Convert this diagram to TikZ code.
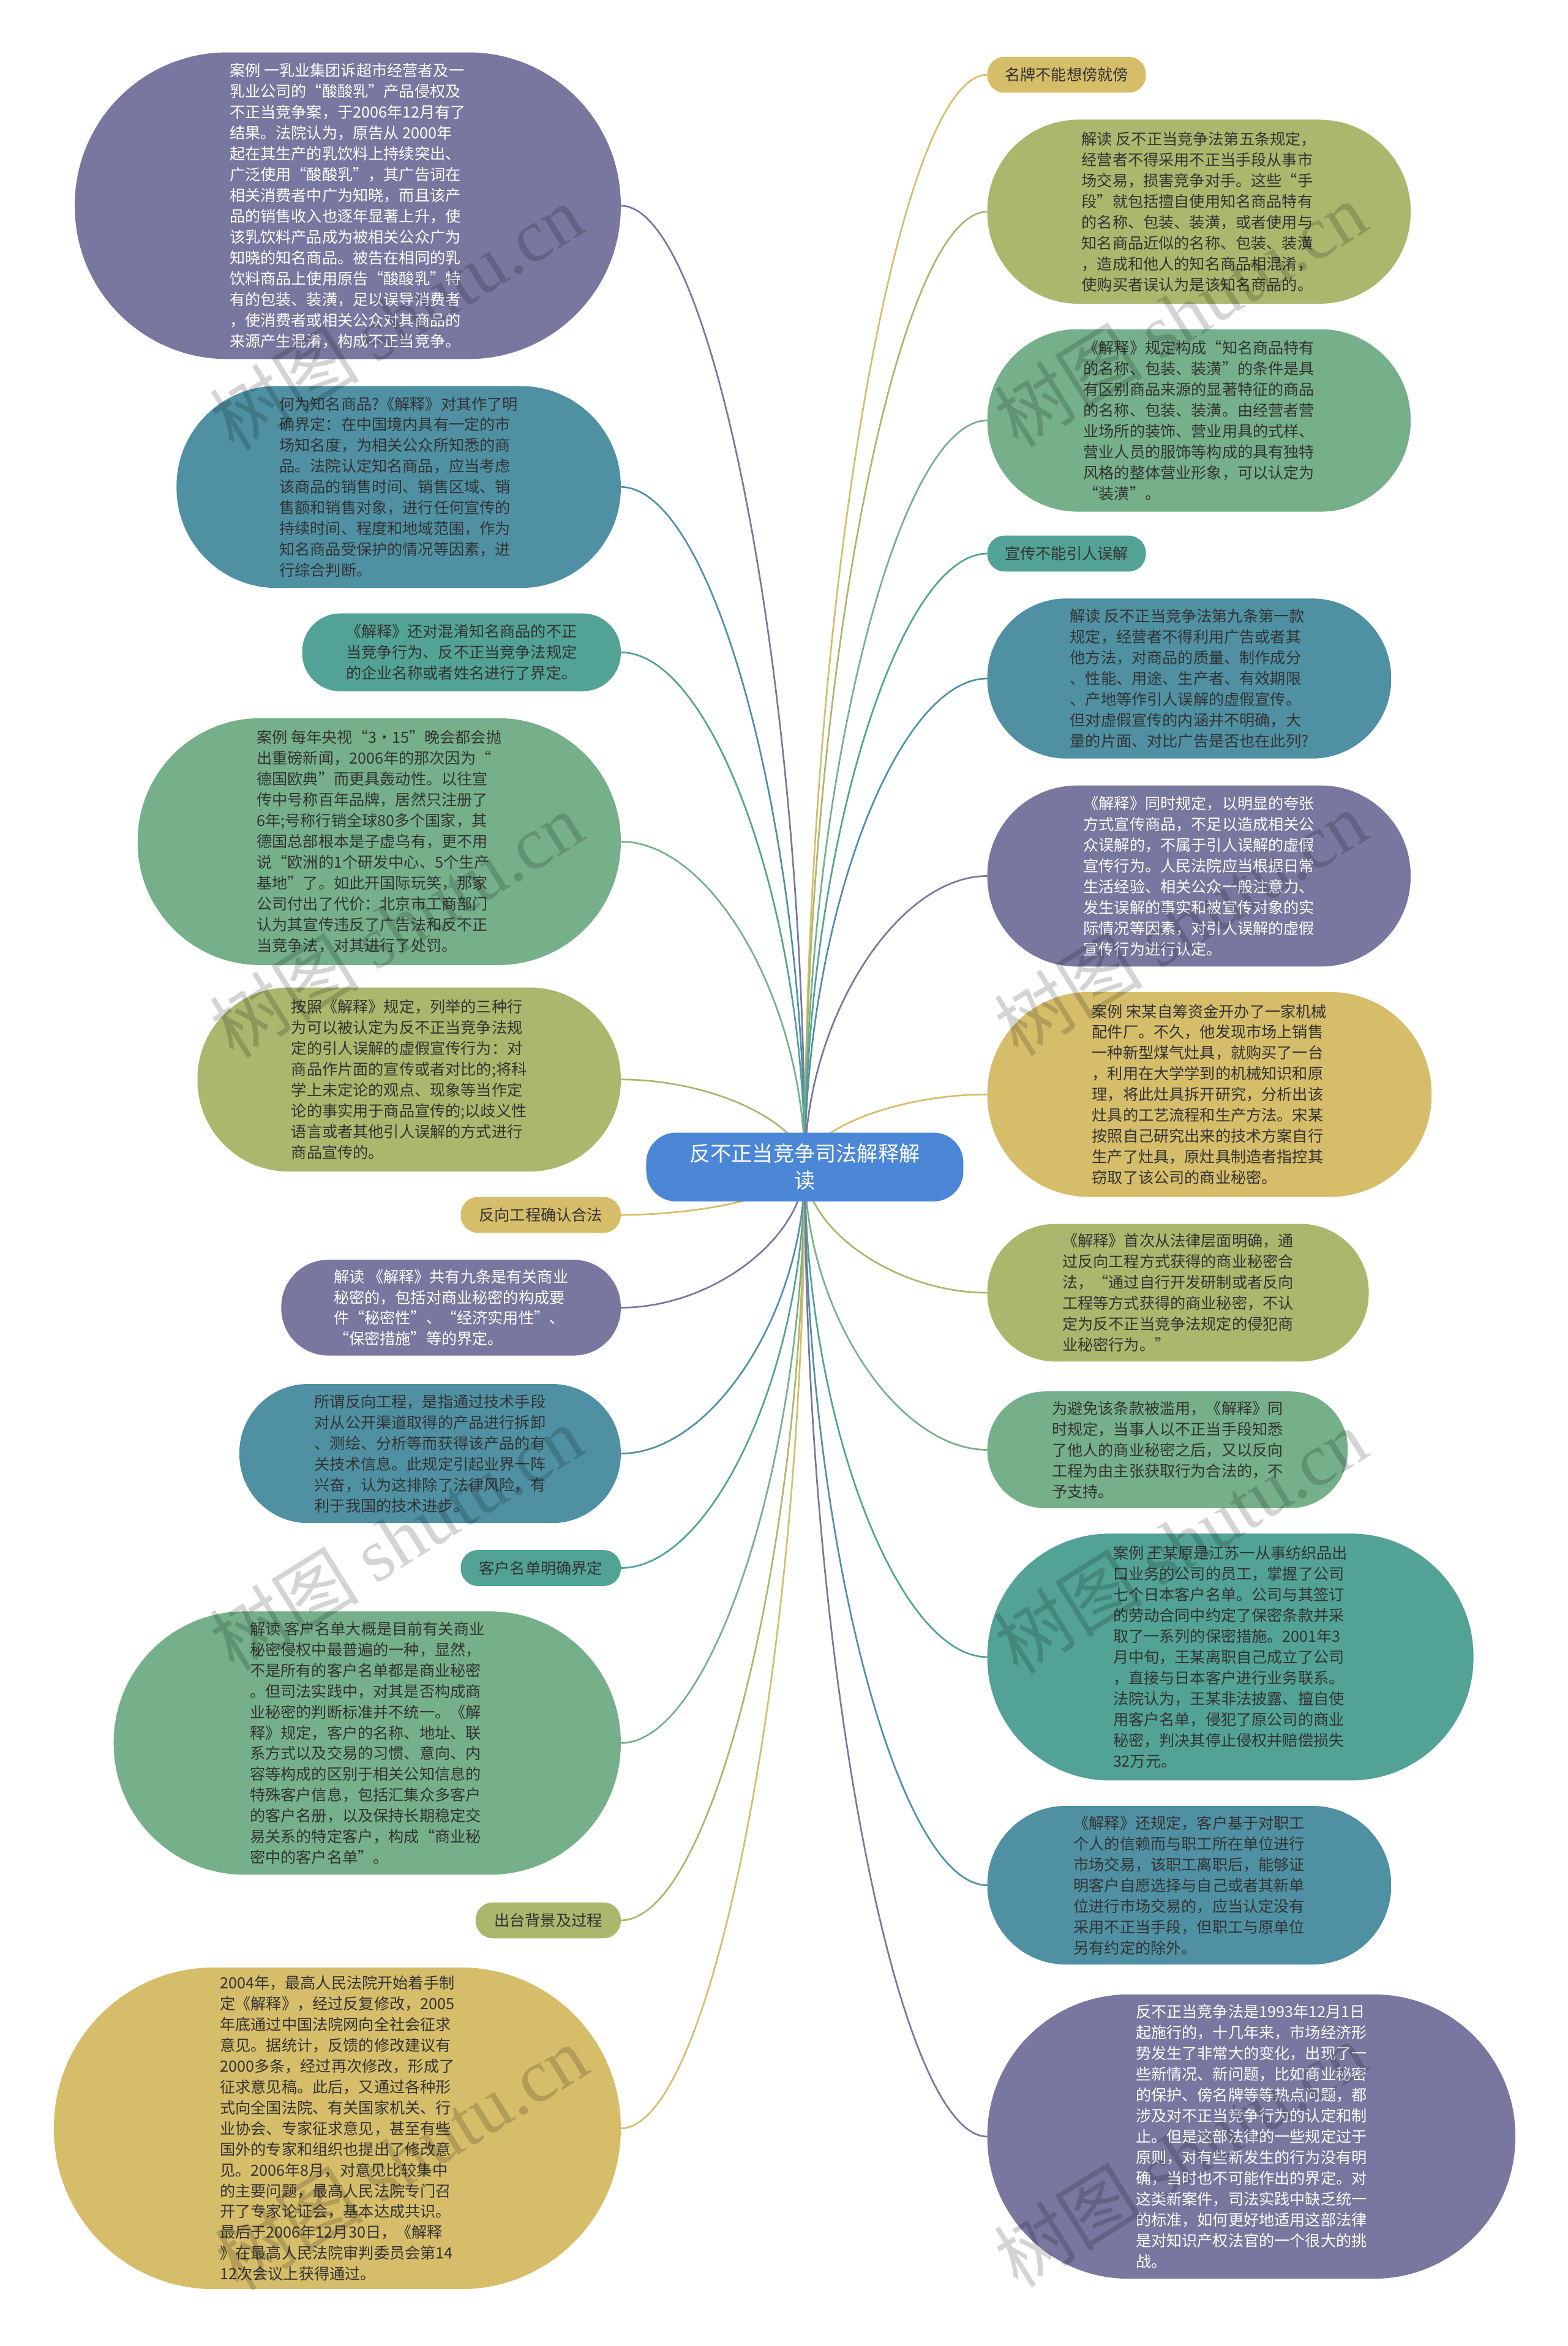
\documentclass[tikz,border=0pt]{standalone}
\usepackage{fontspec}
\setmainfont{Noto Sans CJK SC}
\newfontfamily\wmlatin{Liberation Serif}
\usetikzlibrary{calc,backgrounds}
\definecolor{cpur}{RGB}{119,119,159}
\definecolor{cteal}{RGB}{79,145,163}
\definecolor{cgreen}{RGB}{117,176,139}
\definecolor{colive}{RGB}{172,182,108}
\definecolor{cgold}{RGB}{213,189,106}
\definecolor{ctg}{RGB}{82,163,150}
\definecolor{cblue}{RGB}{75,134,215}
\definecolor{cdark}{RGB}{51,51,51}
\tikzset{
  box/.style={rectangle, inner sep=0pt, outer sep=0pt, align=left,
    font=\fontsize{10.3}{13.9}\selectfont, text=cdark},
  lbl/.style={rectangle, inner sep=0pt, outer sep=0pt,
    font=\fontsize{10.3}{13.9}\selectfont, text=cdark,
    minimum height=24pt, rounded corners=11.5pt},
  link/.style={line width=1.1pt},
  wm/.style={font=\fontsize{50}{50}\selectfont, text=black, text opacity=0.17,
    rotate=32, inner sep=0pt},
}
\newcommand\mmlink[3]{\draw[link,#1] (#2) .. controls ($(#2)!0.5!(#2|-#3)$) and ($(#3)!0.5!(#2|-#3)$) .. (#3);}
\begin{document}
\begin{tikzpicture}[x=1pt,y=-1pt]
\useasboundingbox (0,0) rectangle (1048,1568);

% centre
\node[rectangle, fill=cblue, text=white, font=\fontsize{14}{18}\selectfont,
  align=center, minimum width=212pt, minimum height=46pt, rounded corners=20pt,
  inner sep=0pt] (root) at (538,780) {反不正当竞争司法解释解\\读};

% ---------- left ----------
\node[box, fill=cpur, text=white, minimum width=365pt, minimum height=205pt, rounded corners=102pt] (l1) at (232.5,137.5) {案例 一乳业集团诉超市经营者及一\\
乳业公司的“酸酸乳”产品侵权及\\
不正当竞争案，于2006年12月有了\\
结果。法院认为，原告从 2000年\\
起在其生产的乳饮料上持续突出、\\
广泛使用“酸酸乳”，其广告词在\\
相关消费者中广为知晓，而且该产\\
品的销售收入也逐年显著上升，使\\
该乳饮料产品成为被相关公众广为\\
知晓的知名商品。被告在相同的乳\\
饮料商品上使用原告“酸酸乳”特\\
有的包装、装潢，足以误导消费者\\
，使消费者或相关公众对其商品的\\
来源产生混淆，构成不正当竞争。};

\node[box, fill=cteal, minimum width=297pt, minimum height=135pt, rounded corners=67pt] (l2) at (266.5,325.5) {何为知名商品?《解释》对其作了明\\
确界定：在中国境内具有一定的市\\
场知名度，为相关公众所知悉的商\\
品。法院认定知名商品，应当考虑\\
该商品的销售时间、销售区域、销\\
售额和销售对象，进行任何宣传的\\
持续时间、程度和地域范围，作为\\
知名商品受保护的情况等因素，进\\
行综合判断。};

\node[box, fill=ctg, minimum width=213pt, minimum height=52pt, rounded corners=25.5pt] (l3) at (308.5,436) {《解释》还对混淆知名商品的不正\\
当竞争行为、反不正当竞争法规定\\
的企业名称或者姓名进行了界定。};

\node[box, fill=cgreen, minimum width=323pt, minimum height=165pt, rounded corners=82pt] (l4) at (253.5,562.5) {案例 每年央视“3·15”晚会都会抛\\
出重磅新闻，2006年的那次因为“\\
德国欧典”而更具轰动性。以往宣\\
传中号称百年品牌，居然只注册了\\
6年;号称行销全球80多个国家，其\\
德国总部根本是子虚乌有，更不用\\
说“欧洲的1个研发中心、5个生产\\
基地”了。如此开国际玩笑，那家\\
公司付出了代价：北京市工商部门\\
认为其宣传违反了广告法和反不正\\
当竞争法，对其进行了处罚。};

\node[box, fill=colive, minimum width=283pt, minimum height=123pt, rounded corners=61pt] (l5) at (273.5,721.5) {按照《解释》规定，列举的三种行\\
为可以被认定为反不正当竞争法规\\
定的引人误解的虚假宣传行为：对\\
商品作片面的宣传或者对比的;将科\\
学上未定论的观点、现象等当作定\\
论的事实用于商品宣传的;以歧义性\\
语言或者其他引人误解的方式进行\\
商品宣传的。};

\node[lbl, fill=cgold, minimum width=107pt] (l6) at (361.5,812) {反向工程确认合法};

\node[box, fill=cpur, text=white, minimum width=227pt, minimum height=64pt, rounded corners=31.5pt] (l7) at (301.5,874) {解读 《解释》共有九条是有关商业\\
秘密的，包括对商业秘密的构成要\\
件“秘密性”、“经济实用性”、\\
“保密措施”等的界定。};

\node[box, fill=cteal, minimum width=255pt, minimum height=93pt, rounded corners=46pt] (l8) at (287.5,971.5) {所谓反向工程，是指通过技术手段\\
对从公开渠道取得的产品进行拆卸\\
、测绘、分析等而获得该产品的有\\
关技术信息。此规定引起业界一阵\\
兴奋，认为这排除了法律风险，有\\
利于我国的技术进步。};

\node[lbl, fill=ctg, minimum width=107pt] (l9) at (361.5,1048) {客户名单明确界定};

\node[box, fill=cgreen, minimum width=339pt, minimum height=176pt, rounded corners=87.5pt] (l10) at (245.5,1165) {解读 客户名单大概是目前有关商业\\
秘密侵权中最普遍的一种，显然，\\
不是所有的客户名单都是商业秘密\\
。但司法实践中，对其是否构成商\\
业秘密的判断标准并不统一。《解\\
释》规定，客户的名称、地址、联\\
系方式以及交易的习惯、意向、内\\
容等构成的区别于相关公知信息的\\
特殊客户信息，包括汇集众多客户\\
的客户名册，以及保持长期稳定交\\
易关系的特定客户，构成“商业秘\\
密中的客户名单”。};

\node[lbl, fill=colive, minimum width=97pt] (l11) at (366.5,1283.5) {出台背景及过程};

\node[box, fill=cgold, minimum width=379pt, minimum height=215pt, rounded corners=107pt] (l12) at (225.5,1422.5) {2004年，最高人民法院开始着手制\\
定《解释》，经过反复修改，2005\\
年底通过中国法院网向全社会征求\\
意见。据统计，反馈的修改建议有\\
2000多条，经过再次修改，形成了\\
征求意见稿。此后，又通过各种形\\
式向全国法院、有关国家机关、行\\
业协会、专家征求意见，甚至有些\\
国外的专家和组织也提出了修改意\\
见。2006年8月，对意见比较集中\\
的主要问题，最高人民法院专门召\\
开了专家论证会，基本达成共识。\\
最后于2006年12月30日，《解释\\
》在最高人民法院审判委员会第14\\
12次会议上获得通过。};

% ---------- right ----------
\node[lbl, fill=cgold, minimum width=106pt] (r1) at (713,50) {名牌不能想傍就傍};

\node[box, fill=colive, minimum width=283pt, minimum height=123pt, rounded corners=61pt] (r2) at (801.5,141.5) {解读 反不正当竞争法第五条规定，\\
经营者不得采用不正当手段从事市\\
场交易，损害竞争对手。这些“手\\
段”就包括擅自使用知名商品特有\\
的名称、包装、装潢，或者使用与\\
知名商品近似的名称、包装、装潢\\
，造成和他人的知名商品相混淆，\\
使购买者误认为是该知名商品的。};

\node[box, fill=cgreen, minimum width=283pt, minimum height=122pt, rounded corners=60.5pt] (r3) at (801.5,281) {《解释》规定构成“知名商品特有\\
的名称、包装、装潢”的条件是具\\
有区别商品来源的显著特征的商品\\
的名称、包装、装潢。由经营者营\\
业场所的装饰、营业用具的式样、\\
营业人员的服饰等构成的具有独特\\
风格的整体营业形象，可以认定为\\
“装潢”。};

\node[lbl, fill=ctg, minimum width=106pt] (r4) at (713,370) {宣传不能引人误解};

\node[box, fill=cteal, minimum width=270pt, minimum height=107pt, rounded corners=53pt] (r5) at (795,453.5) {解读 反不正当竞争法第九条第一款\\
规定，经营者不得利用广告或者其\\
他方法，对商品的质量、制作成分\\
、性能、用途、生产者、有效期限\\
、产地等作引人误解的虚假宣传。\\
但对虚假宣传的内涵并不明确，大\\
量的片面、对比广告是否也在此列?};

\node[box, fill=cpur, text=white, minimum width=283pt, minimum height=121pt, rounded corners=60pt] (r6) at (801.5,585.5) {《解释》同时规定，以明显的夸张\\
方式宣传商品，不足以造成相关公\\
众误解的，不属于引人误解的虚假\\
宣传行为。人民法院应当根据日常\\
生活经验、相关公众一般注意力、\\
发生误解的事实和被宣传对象的实\\
际情况等因素，对引人误解的虚假\\
宣传行为进行认定。};

\node[box, fill=cgold, minimum width=297pt, minimum height=137pt, rounded corners=68pt] (r7) at (808.5,731.5) {案例 宋某自筹资金开办了一家机械\\
配件厂。不久，他发现市场上销售\\
一种新型煤气灶具，就购买了一台\\
，利用在大学学到的机械知识和原\\
理，将此灶具拆开研究，分析出该\\
灶具的工艺流程和生产方法。宋某\\
按照自己研究出来的技术方案自行\\
生产了灶具，原灶具制造者指控其\\
窃取了该公司的商业秘密。};

\node[box, fill=colive, minimum width=255pt, minimum height=92pt, rounded corners=45.5pt] (r8) at (787.5,864) {《解释》首次从法律层面明确，通\\
过反向工程方式获得的商业秘密合\\
法，“通过自行开发研制或者反向\\
工程等方式获得的商业秘密，不认\\
定为反不正当竞争法规定的侵犯商\\
业秘密行为。”};

\node[box, fill=cgreen, minimum width=241pt, minimum height=78pt, rounded corners=38.5pt] (r9) at (780.5,969) {为避免该条款被滥用，《解释》同\\
时规定，当事人以不正当手段知悉\\
了他人的商业秘密之后，又以反向\\
工程为由主张获取行为合法的，不\\
予支持。};

\node[box, fill=ctg, minimum width=325pt, minimum height=165pt, rounded corners=82pt] (r10) at (822.5,1107.5) {案例 王某原是江苏一从事纺织品出\\
口业务的公司的员工，掌握了公司\\
七个日本客户名单。公司与其签订\\
的劳动合同中约定了保密条款并采\\
取了一系列的保密措施。2001年3\\
月中旬，王某离职自己成立了公司\\
，直接与日本客户进行业务联系。\\
法院认为，王某非法披露、擅自使\\
用客户名单，侵犯了原公司的商业\\
秘密，判决其停止侵权并赔偿损失\\
32万元。};

\node[box, fill=cteal, minimum width=270pt, minimum height=106pt, rounded corners=52.5pt] (r11) at (795,1260) {《解释》还规定，客户基于对职工\\
个人的信赖而与职工所在单位进行\\
市场交易，该职工离职后，能够证\\
明客户自愿选择与自己或者其新单\\
位进行市场交易的，应当认定没有\\
采用不正当手段，但职工与原单位\\
另有约定的除外。};

\node[box, fill=cpur, text=white, minimum width=353pt, minimum height=190pt, rounded corners=94.5pt] (r12) at (836.5,1428) {反不正当竞争法是1993年12月1日\\
起施行的，十几年来，市场经济形\\
势发生了非常大的变化，出现了一\\
些新情况、新问题，比如商业秘密\\
的保护、傍名牌等等热点问题，都\\
涉及对不正当竞争行为的认定和制\\
止。但是这部法律的一些规定过于\\
原则，对有些新发生的行为没有明\\
确，当时也不可能作出的界定。对\\
这类新案件，司法实践中缺乏统一\\
的标准，如何更好地适用这部法律\\
是对知识产权法官的一个很大的挑\\
战。};

% ---------- connectors ----------
\begin{scope}[on background layer]
\fill[white] (0,0) rectangle (1048,1568);
\mmlink{cpur}{root.center}{l1.east}
\mmlink{cteal}{root.center}{l2.east}
\mmlink{ctg}{root.center}{l3.east}
\mmlink{cgreen}{root.center}{l4.east}
\mmlink{colive}{root.center}{l5.east}
\mmlink{cgold}{root.center}{l6.east}
\mmlink{cpur}{root.center}{l7.east}
\mmlink{cteal}{root.center}{l8.east}
\mmlink{ctg}{root.center}{l9.east}
\mmlink{cgreen}{root.center}{l10.east}
\mmlink{colive}{root.center}{l11.east}
\mmlink{cgold}{root.center}{l12.east}
\mmlink{cgold}{root.center}{r1.west}
\mmlink{colive}{root.center}{r2.west}
\mmlink{cgreen}{root.center}{r3.west}
\mmlink{ctg}{root.center}{r4.west}
\mmlink{cteal}{root.center}{r5.west}
\mmlink{cpur}{root.center}{r6.west}
\mmlink{cgold}{root.center}{r7.west}
\mmlink{colive}{root.center}{r8.west}
\mmlink{cgreen}{root.center}{r9.west}
\mmlink{ctg}{root.center}{r10.west}
\mmlink{cteal}{root.center}{r11.west}
\mmlink{cpur}{root.center}{r12.west}
\end{scope}

% ---------- watermarks ----------
\node[wm] (wm1) at (265,212) {树图 {\wmlatin shutu.cn}};
\node[wm] (wm2) at (265,618) {树图 {\wmlatin shutu.cn}};
\node[wm] (wm3) at (265,1028) {树图 {\wmlatin shutu.cn}};
\node[wm] (wm4) at (268,1442) {树图 {\wmlatin shutu.cn}};
\node[wm] (wm5) at (789,210) {树图 {\wmlatin shutu.cn}};
\node[wm] (wm6) at (789,617) {树图 {\wmlatin shutu.cn}};
\node[wm] (wm7) at (789,1030) {树图 {\wmlatin shutu.cn}};
\node[wm] (wm8) at (789,1440) {树图 {\wmlatin shutu.cn}};
\end{tikzpicture}
\end{document}
